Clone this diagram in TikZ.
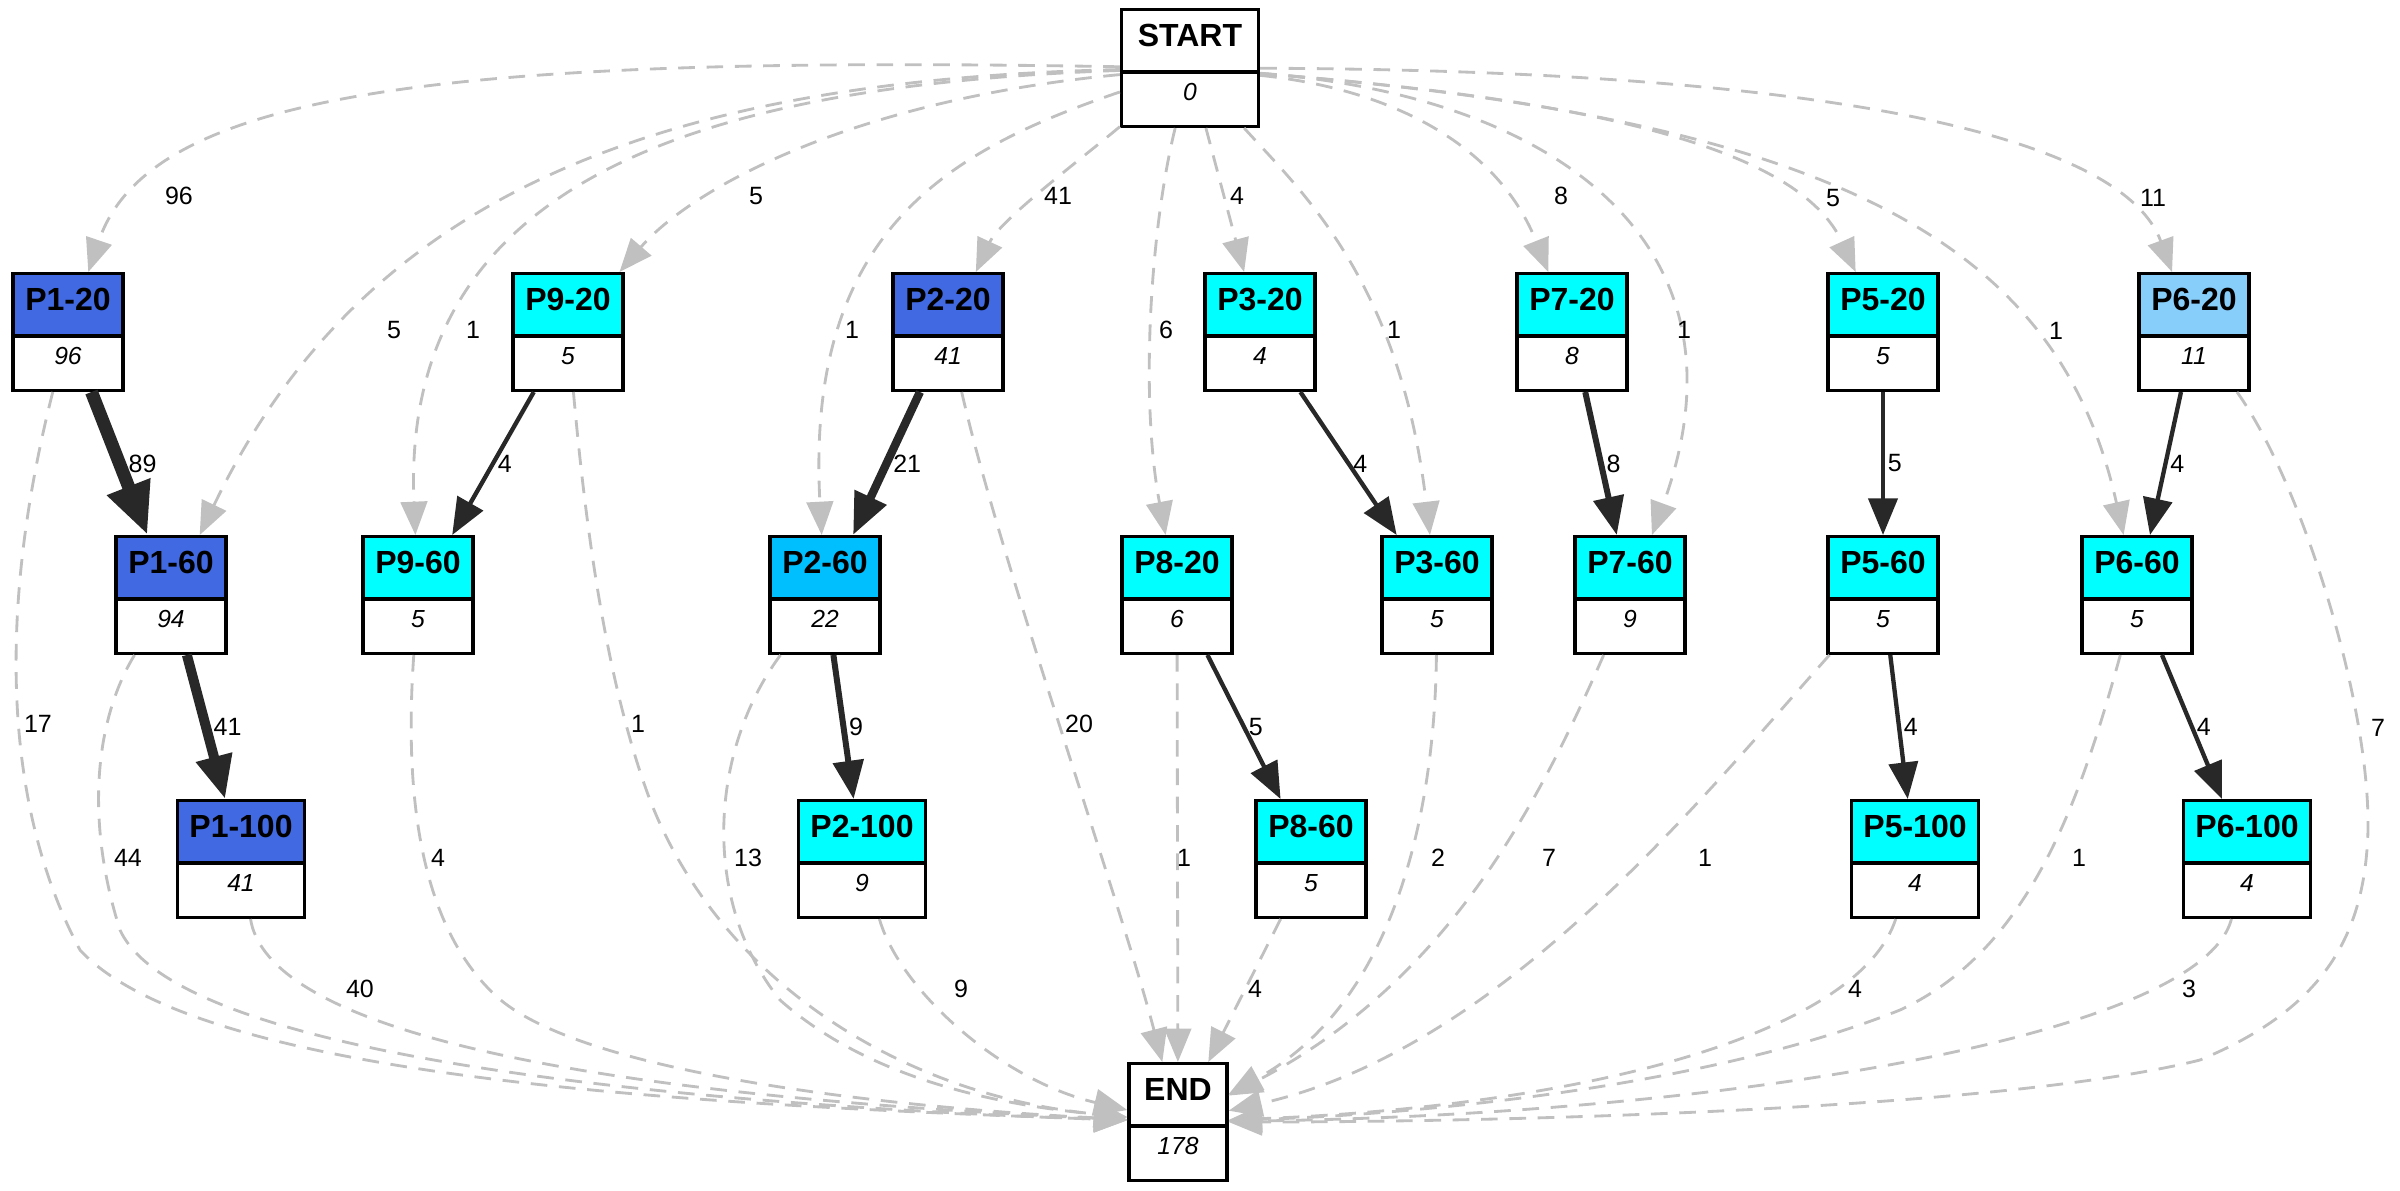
\documentclass[tikz,border=0pt]{standalone}
\usepackage{fontspec}
\setmainfont{Liberation Sans}
\usetikzlibrary{arrows.meta, shapes.multipart}
\definecolor{royal}{HTML}{4169E1}
\definecolor{aqua}{HTML}{00FFFF}
\definecolor{deepsky}{HTML}{00BFFF}
\definecolor{lightsky}{HTML}{87CEFA}
\definecolor{silver}{HTML}{C0C0C0}
\definecolor{ink}{HTML}{282828}
\newcommand{\pcount}[2]{\fontsize{9.6}{10}\selectfont\bfseries #1\rule[-7.2pt]{0pt}{17.7pt}%
  \nodepart{two}\normalfont\fontsize{7.4}{8}\selectfont\itshape #2\rule[-7.2pt]{0pt}{15.3pt}}
\tikzset{
    pbox/.style ={rectangle split, rectangle split parts=2, draw, line width=1pt,
                  inner xsep=2pt, inner ysep=0pt, minimum width=33pt,
                  rectangle split part fill={#1,white}},
    pbox/.default=white,
    lbl/.style = {font=\fontsize{7.5}{8}\selectfont, inner sep=0.8pt},
    jump/.style = {draw=silver, line width=0.85pt, dash pattern=on 5pt off 3.5pt,
                   -{Triangle[length=10pt, width=8pt]}},
    flowa/.style = {draw=ink, line width=1.3pt, -{Triangle[length=11pt, width=8.7pt]}},
    flowb/.style = {draw=ink, line width=1.8pt, -{Triangle[length=11.5pt, width=9pt]}},
    flowc/.style = {draw=ink, line width=2.5pt, -{Triangle[length=12.5pt, width=10pt]}},
    flowd/.style = {draw=ink, line width=3pt, -{Triangle[length=13pt, width=10.5pt]}},
    flowe/.style = {draw=ink, line width=3.9pt, -{Triangle[length=15.6pt, width=12.9pt]}}
    }

\begin{document}
\begin{tikzpicture}[x=0.3pt, y=-0.3pt]
    \useasboundingbox (0,0) rectangle (2400,1191);

    % boxes
    \node[pbox, minimum width=41.1pt] (start) at (1190,68) {\pcount{START}{0}};
    \node[pbox, minimum width=29.4pt] (end) at (1178,1122) {\pcount{END}{178}};

    \node[pbox=royal] (p1-20) at (68,332) {\pcount{P1-20}{96}};
    \node[pbox=aqua] (p9-20) at (568,332) {\pcount{P9-20}{5}};
    \node[pbox=royal] (p2-20) at (948,332) {\pcount{P2-20}{41}};
    \node[pbox=aqua] (p3-20) at (1260,332) {\pcount{P3-20}{4}};
    \node[pbox=aqua] (p7-20) at (1572,332) {\pcount{P7-20}{8}};
    \node[pbox=aqua] (p5-20) at (1883,332) {\pcount{P5-20}{5}};
    \node[pbox=lightsky] (p6-20) at (2194,332) {\pcount{P6-20}{11}};

    \node[pbox=royal] (p1-60) at (171,595) {\pcount{P1-60}{94}};
    \node[pbox=aqua] (p9-60) at (418,595) {\pcount{P9-60}{5}};
    \node[pbox=deepsky] (p2-60) at (825,595) {\pcount{P2-60}{22}};
    \node[pbox=aqua] (p8-20) at (1177,595) {\pcount{P8-20}{6}};
    \node[pbox=aqua] (p3-60) at (1437,595) {\pcount{P3-60}{5}};
    \node[pbox=aqua] (p7-60) at (1630,595) {\pcount{P7-60}{9}};
    \node[pbox=aqua] (p5-60) at (1883,595) {\pcount{P5-60}{5}};
    \node[pbox=aqua] (p6-60) at (2137,595) {\pcount{P6-60}{5}};

    \node[pbox=royal, minimum width=38.1pt] (p1-100) at (241,859) {\pcount{P1-100}{41}};
    \node[pbox=aqua, minimum width=38.1pt] (p2-100) at (862,859) {\pcount{P2-100}{9}};
    \node[pbox=aqua] (p8-60) at (1311,859) {\pcount{P8-60}{5}};
    \node[pbox=aqua, minimum width=38.1pt] (p5-100) at (1915,859) {\pcount{P5-100}{4}};
    \node[pbox=aqua, minimum width=38.1pt] (p6-100) at (2247,859) {\pcount{P6-100}{4}};

    % from START
    \draw[jump] (start) .. controls (450,55) and (150,90) .. (p1-20) node[lbl] at (179,196) {96};
    \draw[jump] (start) .. controls (650,80) and (360,200) .. (p1-60) node[lbl] at (394,330) {5};
    \draw[jump] (start) .. controls (700,85) and (400,180) .. (p9-60) node[lbl] at (473,330) {1};
    \draw[jump] (start) .. controls (850,100) and (690,190) .. (p9-20) node[lbl] at (756,196) {5};
    \draw[jump] (start) .. controls (950,150) and (805,230) .. (p2-60) node[lbl] at (852,330) {1};
    \draw[jump] (start) .. controls (1080,160) and (1000,220) .. (p2-20) node[lbl] at (1058,196) {41};
    \draw[jump] (start) .. controls (1150,230) and (1140,400) .. (p8-20) node[lbl] at (1166,330) {6};
    \draw[jump] (start) -- (p3-20) node[lbl] at (1237,196) {4};
    \draw[jump] (start) .. controls (1300,190) and (1400,280) .. (p3-60) node[lbl] at (1394,330) {1};
    \draw[jump] (start) .. controls (1400,90) and (1500,150) .. (p7-20) node[lbl] at (1561,196) {8};
    \draw[jump] (start) .. controls (1550,95) and (1760,240) .. (p7-60) node[lbl] at (1684,330) {1};
    \draw[jump] (start) .. controls (1600,100) and (1800,150) .. (p5-20) node[lbl] at (1833,198) {5};
    \draw[jump] (start) .. controls (1850,120) and (2060,250) .. (p6-60) node[lbl] at (2056,331) {1};
    \draw[jump] (start) .. controls (1800,70) and (2120,130) .. (p6-20) node[lbl] at (2153,198) {11};

    % between the steps
    \path (p1-20) edge[flowe] node[lbl, right] {89} (p1-60);
    \path (p9-20) edge[flowa] node[lbl, right] {4} (p9-60);
    \path (p2-20) edge[flowc] node[lbl, right] {21} (p2-60);
    \path (p3-20) edge[flowa] node[lbl, right] {4} (p3-60);
    \path (p7-20) edge[flowb] node[lbl, right] {8} (p7-60);
    \path (p5-20) edge[flowa] node[lbl, right] {5} (p5-60);
    \path (p6-20) edge[flowa] node[lbl, right] {4} (p6-60);
    \path (p1-60) edge[flowd] node[lbl, right] {41} (p1-100);
    \path (p2-60) edge[flowb] node[lbl, right] {9} (p2-100);
    \path (p8-20) edge[flowa] node[lbl, right] {5} (p8-60);
    \path (p5-60) edge[flowa] node[lbl, right] {4} (p5-100);
    \path (p6-60) edge[flowa] node[lbl, right] {4} (p6-100);

    % to END
    \draw[jump] (p1-20) .. controls (0,600) and (0,800) .. (80,950)
        .. controls (200,1080) and (700,1105) .. (end) node[lbl] at (38,724) {17};
    \draw[jump] (p1-60) .. controls (95,720) and (85,820) .. (120,930)
        .. controls (180,1060) and (700,1105) .. (end) node[lbl] at (128,858) {44};
    \draw[jump] (p1-100) .. controls (265,1010) and (480,1090) .. (end) node[lbl] at (360,989) {40};
    \draw[jump] (p9-60) .. controls (405,780) and (415,920) .. (495,995)
        .. controls (580,1075) and (900,1108) .. (end) node[lbl] at (438,858) {4};
    \draw[jump] (p9-20) .. controls (585,520) and (605,680) .. (650,800)
        .. controls (720,980) and (900,1095) .. (end) node[lbl] at (638,724) {1};
    \draw[jump] (p2-60) .. controls (710,750) and (700,900) .. (780,1000)
        .. controls (870,1080) and (1000,1105) .. (end) node[lbl] at (748,858) {13};
    \draw[jump] (p2-100) .. controls (900,990) and (1000,1080) .. (end) node[lbl] at (961,989) {9};
    \draw[jump] (p2-20) .. controls (1000,560) and (1120,900) .. (end) node[lbl] at (1079,724) {20};
    \draw[jump] (p8-20) -- (end) node[lbl] at (1184,858) {1};
    \draw[jump] (p8-60) -- (end) node[lbl] at (1255,989) {4};
    \draw[jump] (p3-60) .. controls (1435,800) and (1400,1000) .. (end) node[lbl] at (1438,858) {2};
    \draw[jump] (p7-60) .. controls (1540,800) and (1450,980) .. (end) node[lbl] at (1549,858) {7};
    \draw[jump] (p5-60) .. controls (1700,800) and (1500,1050) .. (end) node[lbl] at (1705,858) {1};
    \draw[jump] (p5-100) .. controls (1860,1030) and (1600,1105) .. (end) node[lbl] at (1855,989) {4};
    \draw[jump] (p6-60) .. controls (2080,800) and (2030,950) .. (1900,1010)
        .. controls (1700,1090) and (1400,1115) .. (end) node[lbl] at (2079,858) {1};
    \draw[jump] (p6-100) .. controls (2200,1040) and (1700,1115) .. (end) node[lbl] at (2189,989) {3};
    \draw[jump] (p6-20) .. controls (2300,480) and (2370,700) .. (2368,830)
        .. controls (2365,940) and (2320,1010) .. (2200,1060)
        .. controls (2000,1110) and (1500,1122) .. (end) node[lbl] at (2378,728) {7};
\end{tikzpicture}
\end{document}
